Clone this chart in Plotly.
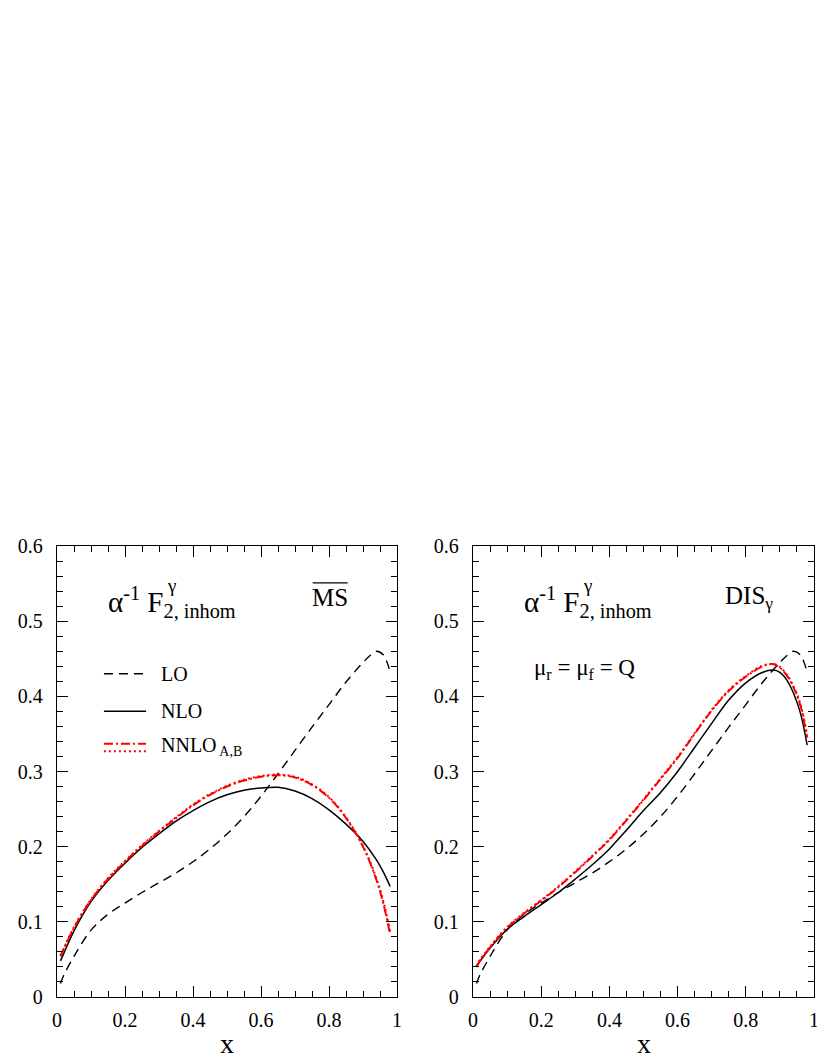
import plotly.graph_objects as go

# ---------------- data ----------------
x_lo = [0.01, 0.02, 0.05, 0.10, 0.15, 0.20, 0.25, 0.30, 0.35, 0.40, 0.45, 0.50, 0.55,
        0.60, 0.65, 0.70, 0.75, 0.80, 0.85, 0.90, 0.92, 0.94, 0.96, 0.98]
lo_vals = [0.018, 0.029, 0.054, 0.089, 0.110, 0.125, 0.139, 0.152, 0.165, 0.180, 0.197, 0.217, 0.240,
           0.267, 0.297, 0.328, 0.359, 0.389, 0.419, 0.445, 0.454, 0.460, 0.455, 0.432]

x_ms = [0.01, 0.02, 0.05, 0.10, 0.15, 0.20, 0.25, 0.30, 0.35, 0.40, 0.45, 0.50, 0.55,
        0.60, 0.65, 0.70, 0.75, 0.80, 0.85, 0.90, 0.94, 0.96, 0.98]
nlo_ms = [0.048, 0.058, 0.088, 0.127, 0.155, 0.178, 0.199, 0.217, 0.234, 0.248, 0.260, 0.269, 0.275,
          0.278, 0.279, 0.274, 0.264, 0.249, 0.230, 0.207, 0.182, 0.166, 0.147]
nnloA_ms = [0.054, 0.064, 0.092, 0.129, 0.157, 0.180, 0.201, 0.220, 0.238, 0.255, 0.269, 0.280, 0.288,
            0.293, 0.295, 0.292, 0.282, 0.265, 0.238, 0.200, 0.155, 0.124, 0.083]
nnloB_ms = [0.055, 0.065, 0.093, 0.130, 0.158, 0.181, 0.202, 0.221, 0.239, 0.256, 0.270, 0.281, 0.289,
            0.294, 0.296, 0.293, 0.283, 0.266, 0.239, 0.201, 0.157, 0.127, 0.087]

x_dis = [0.01, 0.02, 0.05, 0.10, 0.15, 0.20, 0.25, 0.30, 0.35, 0.40, 0.45, 0.50, 0.55,
         0.60, 0.65, 0.70, 0.75, 0.80, 0.85, 0.88, 0.90, 0.92, 0.94, 0.96, 0.98]
nlo_dis = [0.040, 0.047, 0.065, 0.090, 0.107, 0.123, 0.139, 0.157, 0.176, 0.197, 0.222, 0.248, 0.272,
           0.300, 0.332, 0.364, 0.395, 0.418, 0.432, 0.435, 0.432, 0.422, 0.404, 0.378, 0.335]
nnloA_dis = [0.040, 0.048, 0.066, 0.092, 0.111, 0.128, 0.146, 0.166, 0.187, 0.209, 0.235, 0.262, 0.290,
             0.318, 0.350, 0.381, 0.407, 0.426, 0.440, 0.443, 0.438, 0.428, 0.412, 0.388, 0.345]
nnloB_dis = [0.041, 0.049, 0.067, 0.093, 0.112, 0.129, 0.147, 0.167, 0.188, 0.210, 0.236, 0.263, 0.291,
             0.319, 0.351, 0.382, 0.408, 0.427, 0.441, 0.443, 0.439, 0.429, 0.413, 0.390, 0.348]

y_ticks = [0, 0.1, 0.2, 0.3, 0.4, 0.5, 0.6]
y_ticklabels = ["0", "0.1", "0.2", "0.3", "0.4", "0.5", "0.6"]
x_ticks = [0, 0.2, 0.4, 0.6, 0.8, 1.0]
x_ticklabels = ["0", "0.2", "0.4", "0.6", "0.8", "1"]

FONT = "Liberation Serif"
RED = "#ff0000"
LO_DASH = "9px,6px"
A_DASH = "9px,3px,2px,3px"
B_DASH = "2px,3px"

W, H = 817, 1058

def px_x(p):
    return p / W

def px_y(p):
    return (H - p) / H

fig = go.Figure()

def add_panel(xa, ya, xs, nlo, nA, nB):
    fig.add_trace(go.Scatter(x=x_lo, y=lo_vals, mode="lines", xaxis=xa, yaxis=ya,
                             line=dict(color="black", width=1.4, dash=LO_DASH, shape="spline"),
                             showlegend=False, hoverinfo="skip"))
    fig.add_trace(go.Scatter(x=xs, y=nlo, mode="lines", xaxis=xa, yaxis=ya,
                             line=dict(color="black", width=1.5, shape="spline"),
                             showlegend=False, hoverinfo="skip"))
    fig.add_trace(go.Scatter(x=xs, y=nB, mode="lines", xaxis=xa, yaxis=ya,
                             line=dict(color=RED, width=2, dash=B_DASH, shape="spline"),
                             showlegend=False, hoverinfo="skip"))
    fig.add_trace(go.Scatter(x=xs, y=nA, mode="lines", xaxis=xa, yaxis=ya,
                             line=dict(color=RED, width=2, dash=A_DASH, shape="spline"),
                             showlegend=False, hoverinfo="skip"))

add_panel("x", "y", x_ms, nlo_ms, nnloA_ms, nnloB_ms)
add_panel("x2", "y2", x_dis, nlo_dis, nnloA_dis, nnloB_dis)

ydom = [px_y(997), px_y(546)]
xdom1 = [px_x(57), px_x(397)]
xdom2 = [px_x(473), px_x(814)]

axis_common = dict(showline=True, linecolor="black", linewidth=1.3, mirror="ticks",
                   ticks="inside", ticklen=11, tickwidth=1.1, tickcolor="black",
                   showgrid=False, zeroline=False, automargin=False,
                   ticklabeloverflow="allow",
                   tickfont=dict(family=FONT, size=20, color="black"))
xminor = dict(dtick=0.05, ticklen=6, tickwidth=1, tickcolor="black", ticks="inside", showgrid=False)
yminor = dict(dtick=0.02, ticklen=6, tickwidth=1, tickcolor="black", ticks="inside", showgrid=False)

fig.update_layout(
    template="none",
    width=W, height=H,
    font=dict(family=FONT, color="black"),
    margin=dict(l=0, r=0, t=0, b=0, autoexpand=False),
    paper_bgcolor="white", plot_bgcolor="white",
    xaxis=dict(domain=xdom1, range=[0, 1], anchor="y",
               tickvals=x_ticks, ticktext=x_ticklabels, minor=xminor,
               ticklabelstandoff=5, **axis_common),
    yaxis=dict(domain=ydom, range=[0, 0.6], anchor="x",
               tickvals=y_ticks, ticktext=y_ticklabels, minor=yminor,
               ticklabelstandoff=9, **axis_common),
    xaxis2=dict(domain=xdom2, range=[0, 1], anchor="y2",
                tickvals=x_ticks, ticktext=x_ticklabels, minor=xminor,
                ticklabelstandoff=5, **axis_common),
    yaxis2=dict(domain=ydom, range=[0, 0.6], anchor="x2",
                tickvals=y_ticks, ticktext=y_ticklabels, minor=yminor,
                ticklabelstandoff=9, **axis_common),
)

ann = []
def txt(xr, yr, x, y, text, size, xanchor="left", yanchor="middle"):
    ann.append(dict(xref=xr, yref=yr, x=x, y=y, text=text, showarrow=False,
                    xanchor=xanchor, yanchor=yanchor,
                    font=dict(family=FONT, size=size, color="black")))

for xr, yr in (("x", "y"), ("x2", "y2")):
    txt(xr, yr, 0.145, 0.525, "α<sup>-1</sup> F<sub>2, inhom</sub>", 29)
    txt(xr, yr, 0.318, 0.547, "γ", 19)

# MS-bar label
txt("x", "y", 0.803, 0.531, "MS", 25, xanchor="center")
# DIS_gamma label
txt("x2", "y2", 0.81, 0.531, "DIS<sub>γ</sub>", 25, xanchor="center")
# scales
txt("x2", "y2", 0.327, 0.436, "μ<sub>r</sub> = μ<sub>f</sub> = Q", 23, xanchor="center")

# legend texts
txt("x", "y", 0.30, 0.430, "LO", 20)
txt("x", "y", 0.30, 0.380, "NLO", 20)
txt("x", "y", 0.30, 0.333, "NNLO<sub> A,B</sub>", 20)

# axis titles
for xc in ((xdom1[0] + xdom1[1]) / 2, (xdom2[0] + xdom2[1]) / 2):
    ann.append(dict(xref="paper", yref="paper", x=xc, y=px_y(1043), text="x", showarrow=False,
                    xanchor="center", yanchor="middle",
                    font=dict(family=FONT, size=28, color="black")))

fig.update_layout(annotations=ann)

shapes = [
    # overline of MS-bar
    dict(type="line", xref="x", yref="y", x0=0.752, x1=0.855, y0=0.551, y1=0.551,
         line=dict(color="black", width=1.3)),
    # legend keys
    dict(type="line", xref="x", yref="y", x0=0.138, x1=0.262, y0=0.430, y1=0.430,
         line=dict(color="black", width=1.4, dash=LO_DASH)),
    dict(type="line", xref="x", yref="y", x0=0.138, x1=0.262, y0=0.380, y1=0.380,
         line=dict(color="black", width=1.5)),
    dict(type="line", xref="x", yref="y", x0=0.138, x1=0.262, y0=0.337, y1=0.337,
         line=dict(color=RED, width=2, dash=A_DASH)),
    dict(type="line", xref="x", yref="y", x0=0.138, x1=0.262, y0=0.327, y1=0.327,
         line=dict(color=RED, width=2, dash=B_DASH)),
]
fig.update_layout(shapes=shapes)

fig.write_html("out.html",
               config={"displayModeBar": False},
               post_script="document.body.style.margin='0';document.body.style.overflow='hidden';")
